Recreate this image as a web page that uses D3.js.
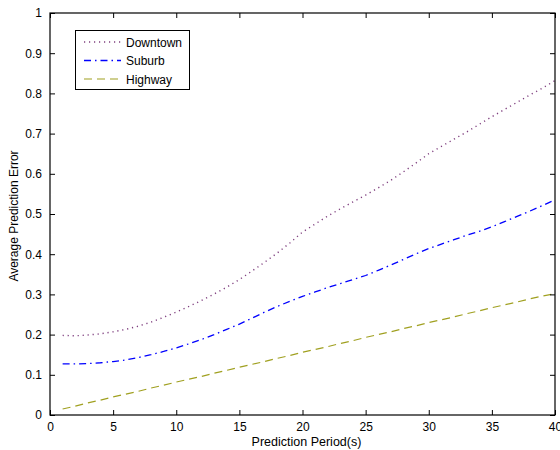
<!DOCTYPE html>
<html><head><meta charset="utf-8">
<script src="https://cdn.jsdelivr.net/npm/d3@7"></script>
<style>body{margin:0;background:#fff}svg{display:block}text{font-family:"Liberation Sans",Arial,sans-serif}</style>
</head><body><svg id="c" width="560" height="450"></svg>
<script>
const periods = d3.range(1, 41);
const downtown = [0.198,0.197,0.199,0.202,0.207,0.213,0.221,0.231,0.243,0.256,0.270,0.285,0.301,0.318,0.337,0.358,0.380,0.403,0.428,0.455,0.475,0.495,0.513,0.530,0.547,0.565,0.584,0.605,0.627,0.650,0.668,0.686,0.704,0.723,0.742,0.760,0.778,0.796,0.813,0.832];
const suburb = [0.127,0.127,0.128,0.130,0.133,0.137,0.143,0.150,0.158,0.167,0.177,0.188,0.200,0.213,0.226,0.241,0.256,0.270,0.283,0.295,0.306,0.317,0.327,0.337,0.347,0.360,0.373,0.387,0.401,0.414,0.425,0.436,0.447,0.457,0.468,0.481,0.494,0.507,0.521,0.535];
const highway = [0.015,0.022,0.030,0.037,0.045,0.052,0.059,0.067,0.074,0.082,0.089,0.096,0.104,0.111,0.119,0.126,0.133,0.141,0.148,0.156,0.163,0.170,0.178,0.185,0.193,0.200,0.207,0.215,0.222,0.230,0.237,0.244,0.252,0.259,0.267,0.274,0.281,0.289,0.296,0.302];
const seriesNames = ["Downtown","Suburb","Highway"];
const xTicks = [0,5,10,15,20,25,30,35,40];
const yTicks = [0,0.1,0.2,0.3,0.4,0.5,0.6,0.7,0.8,0.9,1];
const xLabel = "Prediction Period(s)";
const yLabel = "Average Prediction Error";

const L = 50, R = 555, T = 13, B = 415;
const svg = d3.select("#c");
const x = d3.scaleLinear().domain([0,40]).range([L,R]);
const y = d3.scaleLinear().domain([0,1]).range([B,T]);

const styles = [
  {data: downtown, color: "#7f3f7f", dash: "1.2,3.8", w: 1.4},
  {data: suburb, color: "#0000ff", dash: "7,4,1.5,4", w: 1.3},
  {data: highway, color: "#a0a020", dash: "8,5", w: 1.2}
];

const line = d3.line().x((d,i)=>x(periods[i])).y(d=>y(d));
styles.forEach(s => {
  svg.append("path").attr("d", line(s.data)).attr("fill","none")
    .attr("stroke", s.color).attr("stroke-width", s.w).attr("stroke-dasharray", s.dash);
});

// axes
const fmt = d => d3.format("")(d);
const gx = svg.append("g").attr("transform",`translate(0,${B})`)
  .call(d3.axisBottom(x).tickValues(xTicks).tickSize(-5).tickPadding(7).tickFormat(fmt));
const gxt = svg.append("g").attr("transform",`translate(0,${T})`)
  .call(d3.axisTop(x).tickValues(xTicks).tickSize(-5).tickFormat(""));
const gy = svg.append("g").attr("transform",`translate(${L},0)`)
  .call(d3.axisLeft(y).tickValues(yTicks).tickSize(-5).tickPadding(8).tickFormat(fmt));
const gyr = svg.append("g").attr("transform",`translate(${R},0)`)
  .call(d3.axisRight(y).tickValues(yTicks).tickSize(-5).tickFormat(""));
[gx,gxt,gy,gyr].forEach(g=>{
  g.select(".domain").remove();
  g.selectAll("line").attr("stroke","#000");
  g.selectAll("text").attr("font-size",12).attr("fill","#000").style("font-family","'Liberation Sans',Arial,sans-serif");
});
svg.append("rect").attr("x",L).attr("y",T).attr("width",R-L).attr("height",B-T)
  .attr("fill","none").attr("stroke","#000").attr("stroke-width",1.2);

svg.append("text").attr("x",(L+R)/2+4).attr("y",446).attr("text-anchor","middle")
  .attr("font-size",12.5).text(xLabel);
svg.append("text").attr("transform",`translate(18,${(T+B)/2+2}) rotate(-90)`).attr("text-anchor","middle")
  .attr("font-size",12).text(yLabel);

// legend
const lg = svg.append("g");
lg.append("rect").attr("x",75.5).attr("y",30.5).attr("width",114).attr("height",59)
  .attr("fill","#fff").attr("stroke","#000").attr("stroke-width",1);
styles.forEach((s,i)=>{
  const yy = 42 + i*18.5;
  lg.append("line").attr("x1",84).attr("x2",121).attr("y1",yy).attr("y2",yy)
    .attr("stroke",s.color).attr("stroke-width",s.w).attr("stroke-dasharray",s.dash);
  lg.append("text").attr("x",126).attr("y",yy+4.5).attr("font-size",12).text(seriesNames[i]);
});
</script></body></html>
